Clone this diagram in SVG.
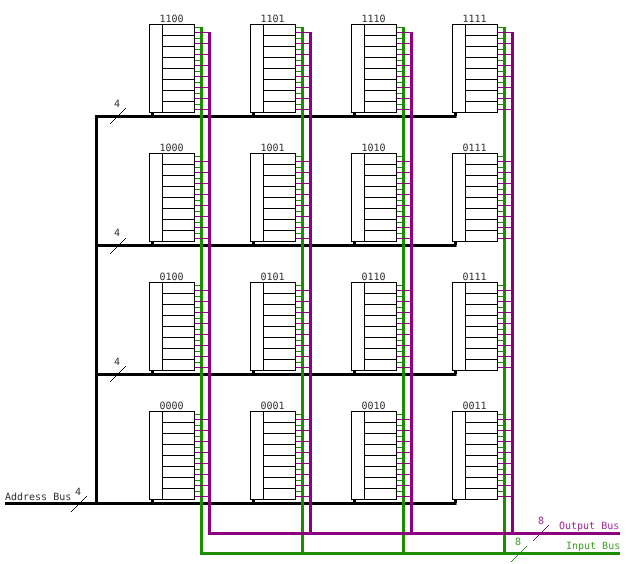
<svg xmlns="http://www.w3.org/2000/svg" width="626" height="564" viewBox="0 0 626 564">
<style>
text{font-family:"DejaVu Sans Mono",monospace;font-size:10px;fill:#000;fill-opacity:.85;text-rendering:geometricPrecision;filter:url(#flat)}
.l{text-anchor:middle}
.box{fill:#fff;stroke:#000;stroke-width:1}
.ln{stroke:#000;stroke-width:1;fill:none}
.g{stroke:#1d8c00;stroke-width:1;fill:none}
.p{stroke:#8c0080;stroke-width:1;fill:none}
.bb{stroke:#000;stroke-width:3;fill:none}
.bg{stroke:#1d8c00;stroke-width:3;fill:none}
.bp{stroke:#8c0080;stroke-width:3;fill:none}
.tick{stroke:#000;stroke-width:1}
</style>
<defs>
<filter id="flat" x="-10%" y="-10%" width="120%" height="120%"><feOffset dx="0" dy="0"/></filter>
<g id="mem">
<path class="g" d="M195 27.500H201M195 38.500H201M195 49.500H201M195 60.500H201M195 71.500H201M195 82.500H201M195 93.500H201M195 104.500H201"/>
<path class="p" d="M195 32.500H209M195 43.500H209M195 54.500H209M195 65.500H209M195 76.500H209M195 87.500H209M195 98.500H209M195 109.500H209"/>
<rect class="box" x="149.500" y="24.500" width="45" height="88"/>
<path class="ln" d="M162.500 24.500V112.500M162.500 35.500H194.500M162.500 46.500H194.500M162.500 57.500H194.500M162.500 68.500H194.500M162.500 79.500H194.500M162.500 90.500H194.500M162.500 101.500H194.500"/>
<path class="bb" d="M152.500 113V116"/>
</g>
</defs>
<g id="connectors-black">
<path class="bb" d="M96.500 115V503M95 116.500H456.500M96.500 245.500H456.500M96.500 374.500H456.500M5 503.500H456.500"/>
<path class="tick" d="M110 124L126 108M110 254L126 238M110 382L126 366M71 512L87 496"/>
</g>
<g id="connectors-input">
<path class="bg" d="M201.500 27V553.500M302.500 27V553.500M403.500 27V553.500M504.500 27V553.500M200 553.500H620"/>
<path class="g" d="M511 562L527 546"/>
</g>
<g id="n1100"><use href="#mem"/><text class="l" x="171.500" y="22">1100</text></g>
<g id="n1101"><use href="#mem" x="101"/><text class="l" x="272.500" y="22">1101</text></g>
<g id="n1110"><use href="#mem" x="202"/><text class="l" x="373.500" y="22">1110</text></g>
<g id="n1111"><use href="#mem" x="303"/><text class="l" x="474.500" y="22">1111</text></g>
<g id="n1000"><use href="#mem" y="129"/><text class="l" x="171.500" y="151">1000</text></g>
<g id="n1001"><use href="#mem" x="101" y="129"/><text class="l" x="272.500" y="151">1001</text></g>
<g id="n1010"><use href="#mem" x="202" y="129"/><text class="l" x="373.500" y="151">1010</text></g>
<g id="n0111a"><use href="#mem" x="303" y="129"/><text class="l" x="474.500" y="151">0111</text></g>
<g id="n0100"><use href="#mem" y="258"/><text class="l" x="171.500" y="280">0100</text></g>
<g id="n0101"><use href="#mem" x="101" y="258"/><text class="l" x="272.500" y="280">0101</text></g>
<g id="n0110"><use href="#mem" x="202" y="258"/><text class="l" x="373.500" y="280">0110</text></g>
<g id="n0111b"><use href="#mem" x="303" y="258"/><text class="l" x="474.500" y="280">0111</text></g>
<g id="n0000"><use href="#mem" y="387"/><text class="l" x="171.500" y="409">0000</text></g>
<g id="n0001"><use href="#mem" x="101" y="387"/><text class="l" x="272.500" y="409">0001</text></g>
<g id="n0010"><use href="#mem" x="202" y="387"/><text class="l" x="373.500" y="409">0010</text></g>
<g id="n0011"><use href="#mem" x="303" y="387"/><text class="l" x="474.500" y="409">0011</text></g>
<g id="connectors-output">
<path class="bp" d="M209.500 32V533.500M310.500 32V533.500M411.500 32V533.500M512.500 32V533.500M208 533.500H620"/>
<path class="p" d="M533 541L549 525"/>
</g>
<g id="labels">
<text x="5" y="500">Address Bus</text>
<text class="l" x="117" y="107">4</text>
<text class="l" x="117" y="236">4</text>
<text class="l" x="117" y="365">4</text>
<text class="l" x="78" y="495">4</text>
<text class="l" x="541" y="524" style="fill:#8c0080">8</text>
<text class="l" x="518" y="545" style="fill:#1d8c00">8</text>
<text x="559" y="529" style="fill:#8c0080">Output Bus</text>
<text x="566" y="549" style="fill:#1d8c00">Input Bus</text>
</g>
</svg>
